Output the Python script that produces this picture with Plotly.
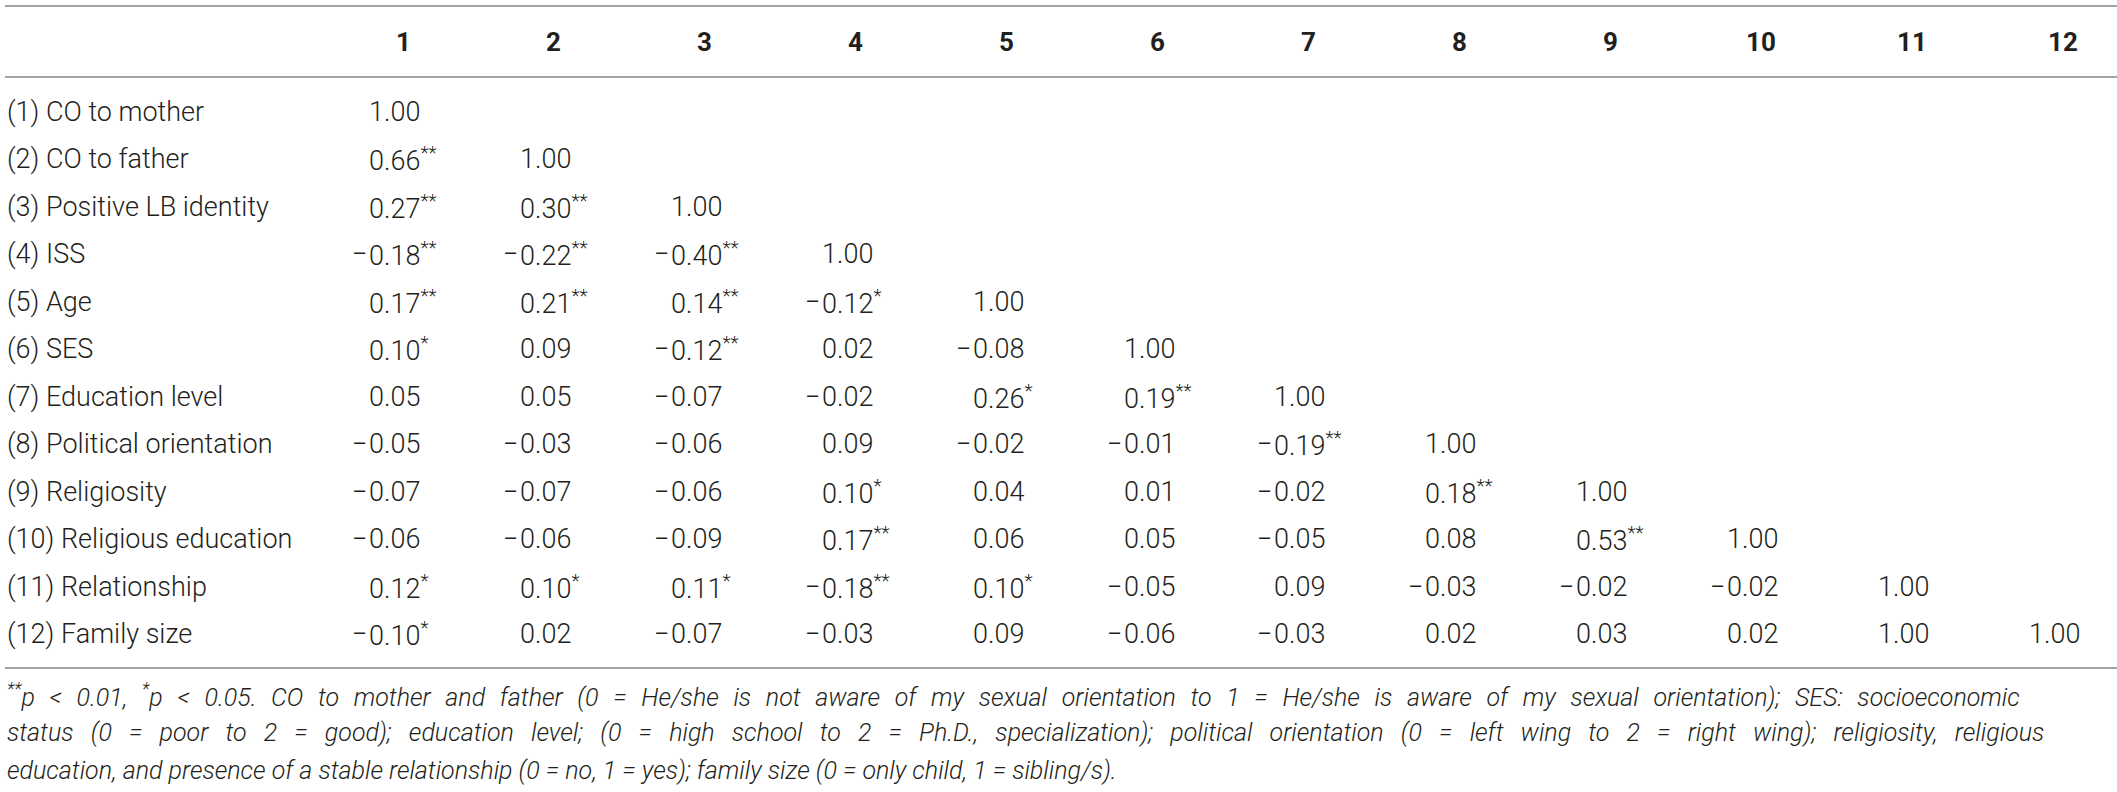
import plotly.graph_objects as go

# table content
row_labels = [
    "(1) CO to mother",
    "(2) CO to father",
    "(3) Positive LB identity",
    "(4) ISS",
    "(5) Age",
    "(6) SES",
    "(7) Education level",
    "(8) Political orientation",
    "(9) Religiosity",
    "(10) Religious education",
    "(11) Relationship",
    "(12) Family size",
]
col_headers = ["1", "2", "3", "4", "5", "6", "7", "8", "9", "10", "11", "12"]

# lower triangle of the correlation matrix, one list per row
r_values = [
    [1.00],
    [0.66, 1.00],
    [0.27, 0.30, 1.00],
    [-0.18, -0.22, -0.40, 1.00],
    [0.17, 0.21, 0.14, -0.12, 1.00],
    [0.10, 0.09, -0.12, 0.02, -0.08, 1.00],
    [0.05, 0.05, -0.07, -0.02, 0.26, 0.19, 1.00],
    [-0.05, -0.03, -0.06, 0.09, -0.02, -0.01, -0.19, 1.00],
    [-0.07, -0.07, -0.06, 0.10, 0.04, 0.01, -0.02, 0.18, 1.00],
    [-0.06, -0.06, -0.09, 0.17, 0.06, 0.05, -0.05, 0.08, 0.53, 1.00],
    [0.12, 0.10, 0.11, -0.18, 0.10, -0.05, 0.09, -0.03, -0.02, -0.02, 1.00],
    [-0.10, 0.02, -0.07, -0.03, 0.09, -0.06, -0.03, 0.02, 0.03, 0.02, 1.00, 1.00],
]
sig_marks = [
    [""],
    ["**", ""],
    ["**", "**", ""],
    ["**", "**", "**", ""],
    ["**", "**", "**", "*", ""],
    ["*", "", "**", "", "", ""],
    ["", "", "", "", "*", "**", ""],
    ["", "", "", "", "", "", "**", ""],
    ["", "", "", "*", "", "", "", "**", ""],
    ["", "", "", "**", "", "", "", "", "**", ""],
    ["*", "*", "*", "**", "*", "", "", "", "", "", ""],
    ["*", "", "", "", "", "", "", "", "", "", "", ""],
]

footnote_lines = [
    "<sup>**</sup>p &lt; 0.01, <sup>*</sup>p &lt; 0.05. CO to mother and father (0 = He/she is not aware of my "
    "sexual orientation to 1 = He/she is aware of my sexual orientation); SES: socioeconomic",
    "status (0 = poor to 2 = good); education level; (0 = high school to 2 = Ph.D., specialization); "
    "political orientation (0 = left wing to 2 = right wing); religiosity, religious",
    "education, and presence of a stable relationship (0 = no, 1 = yes); family size (0 = only child, "
    "1 = sibling/s).",
]
# word gaps used to stretch the justified footnote lines
foot_gaps = [" \u00a0\u200a", " \u00a0\u2009", " "]

# page geometry in pixels
W, H = 2117, 792
col0_px = 367  # left edge of numbers in column 1
col_step = 150.9
row0_px = 112  # centre of row 1
row_step = 47.45

TEXT = "#231f20"
RULE = "#a3a3a3"
FONT = "Roboto"

body_font = dict(family=FONT, size=27, color=TEXT, weight=300)

fig = go.Figure()

annotations = []

# header numbers
for k, h in enumerate(col_headers, start=1):
    annotations.append(
        dict(x=k, xshift=36, y=1 - 42 / H, yref="paper", text=h,
             xanchor="center", yanchor="middle", showarrow=False,
             font=dict(family=FONT, size=26, color=TEXT, weight="bold"))
    )

# row labels
for r, lab in enumerate(row_labels, start=1):
    annotations.append(
        dict(x=5 / W, xref="paper", y=r, text=lab, xanchor="left",
             yanchor="middle", showarrow=False, font=body_font)
    )

# cells; minus sign hangs left of the column so the digits line up
for r, (vals, marks) in enumerate(zip(r_values, sig_marks), start=1):
    for k, (v, m) in enumerate(zip(vals, marks), start=1):
        txt = f"{abs(v):.2f}"
        if m:
            txt += f"<sup>{m}</sup>"
        annotations.append(
            dict(x=k, y=r, text=txt, xanchor="left", yanchor="middle",
                 showarrow=False, font=body_font)
        )
        if v < 0:
            annotations.append(
                dict(x=k, xshift=2, y=r, text="\u2212", xanchor="right",
                     yanchor="middle", showarrow=False, font=body_font)
            )

# footnote
foot_y = [695, 732, 770]
for i, line in enumerate(footnote_lines):
    line = line.replace(" ", foot_gaps[i])
    annotations.append(
        dict(x=5 / W, xref="paper", y=1 - foot_y[i] / H, yref="paper",
             text=line, xanchor="left", yanchor="middle", showarrow=False,
             font=dict(family=FONT, size=25, color=TEXT, weight=300, style="italic"))
    )

# horizontal rules
shapes = []
for ypx in [6, 77, 668]:
    shapes.append(
        dict(type="line", xref="paper", yref="paper", x0=5 / W, x1=1,
             y0=1 - ypx / H, y1=1 - ypx / H, line=dict(color=RULE, width=2))
    )

fig.update_layout(
    width=W,
    height=H,
    margin=dict(l=0, r=0, t=0, b=0),
    paper_bgcolor="white",
    plot_bgcolor="white",
    showlegend=False,
    annotations=annotations,
    shapes=shapes,
    xaxis=dict(range=[1 - col0_px / col_step, 1 + (W - col0_px) / col_step],
               visible=False, fixedrange=True),
    yaxis=dict(range=[1 + (H - row0_px) / row_step, 1 - row0_px / row_step],
               visible=False, fixedrange=True),
)

fig.write_html(
    "out.html",
    config={"displayModeBar": False},
    post_script="document.body.style.margin='0px';document.body.style.overflow='hidden';",
)
